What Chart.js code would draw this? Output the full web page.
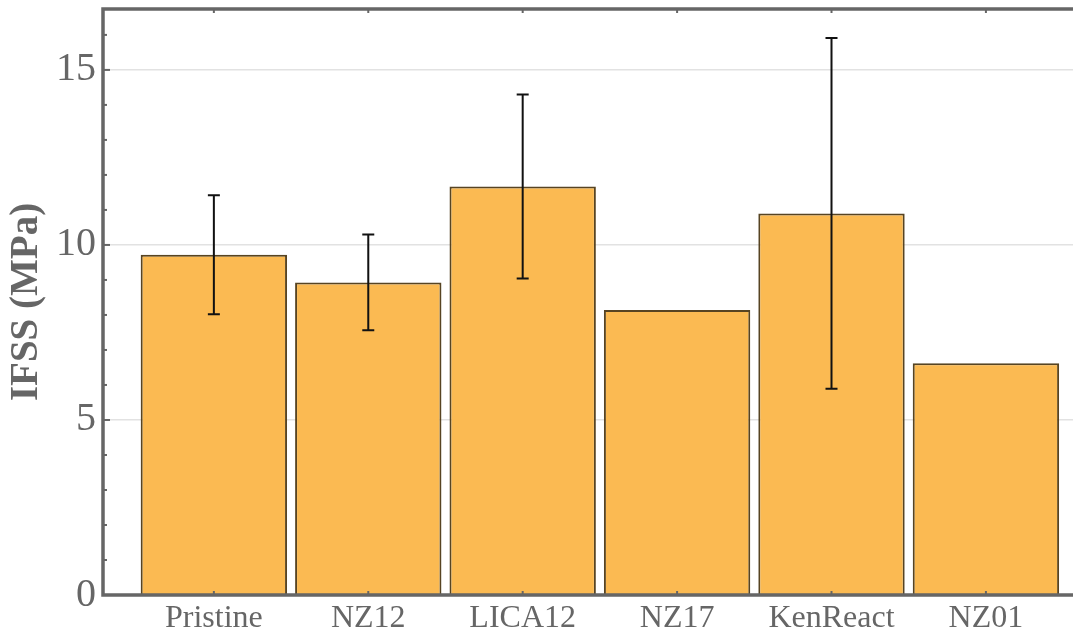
<!DOCTYPE html>
<html>
<head>
<meta charset="utf-8">
<script src="https://cdn.jsdelivr.net/npm/chart.js@4/dist/chart.umd.min.js"></script>
<style>
  html, body { margin: 0; padding: 0; background: #ffffff; overflow: hidden; }
  #wrap { width: 1073px; height: 636px; }
</style>
</head>
<body>
<div id="wrap"><canvas id="c" width="1073" height="636"></canvas></div>
<script>
// Interfacial shear strength per fibre treatment
const categories = ['Pristine', 'NZ12', 'LICA12', 'NZ17', 'KenReact', 'NZ01'];
const ifss = [9.72, 8.93, 11.67, 8.14, 10.90, 6.62];
const ifssError = [1.70, 1.37, 2.63, null, 5.01, null];
const yTicks = [0, 5, 10, 15];
const yMinorTicks = [1, 2, 3, 4, 6, 7, 8, 9, 11, 12, 13, 14, 16];

const AXIS = '#666666';
const TEXT = '#666666';

// frame, inward tick marks
const framePlugin = {
  id: 'frame',
  afterDraw(chart) {
    const { ctx, chartArea: a, scales } = chart;
    const xs = scales.x, ys = scales.y;
    ctx.save();
    ctx.strokeStyle = AXIS;
    ctx.lineCap = 'butt';
    ctx.lineWidth = 2;
    yMinorTicks.forEach(v => {
      const y = ys.getPixelForValue(v);
      ctx.beginPath(); ctx.moveTo(a.left, y); ctx.lineTo(a.left + 4, y); ctx.stroke();
    });
    yTicks.forEach(v => {
      const y = ys.getPixelForValue(v);
      ctx.beginPath(); ctx.moveTo(a.left, y); ctx.lineTo(a.left + 7, y); ctx.stroke();
    });
    categories.forEach((c, i) => {
      const x = xs.getPixelForValue(i);
      ctx.beginPath(); ctx.moveTo(x, a.bottom); ctx.lineTo(x, a.bottom - 4); ctx.stroke();
      ctx.beginPath(); ctx.moveTo(x, a.top); ctx.lineTo(x, a.top + 4); ctx.stroke();
    });
    ctx.lineWidth = 3.5;
    ctx.beginPath();
    ctx.moveTo(chart.width, a.top);
    ctx.lineTo(a.left, a.top);
    ctx.lineTo(a.left, a.bottom);
    ctx.lineTo(chart.width, a.bottom);
    ctx.stroke();
    ctx.restore();
  }
};

// symmetric error bars
const errorBarPlugin = {
  id: 'errorBars',
  afterDatasetsDraw(chart) {
    const { ctx, scales } = chart;
    const xs = scales.x, ys = scales.y;
    ctx.save();
    ctx.strokeStyle = '#111111';
    ctx.lineWidth = 2;
    const cap = 6;
    ifss.forEach((v, i) => {
      const e = ifssError[i];
      if (e == null) return;
      const x = xs.getPixelForValue(i);
      const yHi = ys.getPixelForValue(v + e);
      const yLo = ys.getPixelForValue(v - e);
      ctx.beginPath();
      ctx.moveTo(x, yHi); ctx.lineTo(x, yLo);
      ctx.moveTo(x - cap, yHi); ctx.lineTo(x + cap, yHi);
      ctx.moveTo(x - cap, yLo); ctx.lineTo(x + cap, yLo);
      ctx.stroke();
    });
    ctx.restore();
  }
};

new Chart(document.getElementById('c'), {
  type: 'bar',
  data: {
    datasets: [{
      label: 'IFSS',
      data: ifss.map((v, i) => ({ x: i, y: v })),
      backgroundColor: '#fbba52',
      borderColor: 'rgba(78,58,22,0.95)',
      borderWidth: 2,
      borderSkipped: 'bottom',
      categoryPercentage: 1.0,
      barPercentage: 0.948
    }]
  },
  options: {
    responsive: false,
    animation: false,
    devicePixelRatio: 1,
    layout: { padding: { top: 9, right: 0, left: 0, bottom: 0 } },
    plugins: { legend: { display: false }, tooltip: { enabled: false } },
    scales: {
      x: {
        type: 'linear',
        offset: false,
        min: -0.718,
        max: 5.564,
        afterBuildTicks(scale) { scale.ticks = categories.map((c, i) => ({ value: i })); },
        afterFit(scale) { scale.height = 41; scale.paddingLeft = 0; scale.paddingRight = 0; },
        grid: { display: false, drawTicks: false, offset: false },
        border: { display: false },
        ticks: {
          autoSkip: false,
          maxRotation: 0,
          padding: 4,
          color: TEXT,
          font: { family: '"Liberation Serif", "Times New Roman", serif', size: 32 },
          callback: v => categories[v]
        }
      },
      y: {
        min: 0,
        max: 16.74,
        afterBuildTicks(scale) { scale.ticks = yTicks.map(v => ({ value: v })); },
        afterFit(scale) { scale.width = 103; scale.paddingTop = 0; scale.paddingBottom = 0; },
        grid: {
          drawTicks: false,
          color: ctx => ctx.tick && ctx.tick.value === 0 ? 'rgba(0,0,0,0)' : '#e2e2e2',
          lineWidth: 1.5
        },
        border: { display: false },
        ticks: {
          padding: 7,
          color: TEXT,
          font: { family: '"Liberation Serif", "Times New Roman", serif', size: 40 }
        },
        title: {
          display: true,
          text: 'IFSS (MPa)',
          color: TEXT,
          font: { family: '"Liberation Serif", "Times New Roman", serif', size: 39, weight: 'bold' },
          padding: { top: 4, bottom: 0 }
        }
      }
    }
  },
  plugins: [errorBarPlugin, framePlugin]
});
</script>
</body>
</html>
